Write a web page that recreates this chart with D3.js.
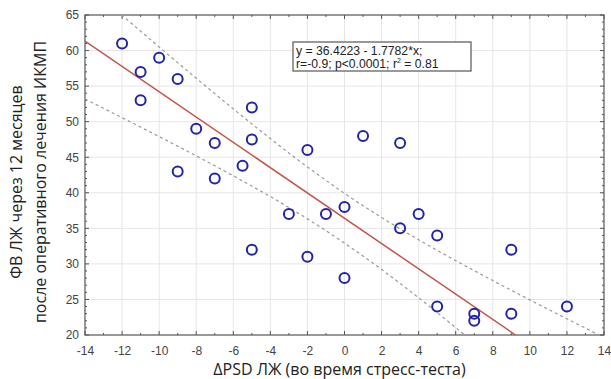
<!DOCTYPE html>
<html>
<head>
<meta charset="utf-8">
<script src="https://cdn.jsdelivr.net/npm/d3@7"></script>
<style>
  html, body { margin: 0; padding: 0; background: #fff; }
  svg { display: block; }
</style>
</head>
<body>
<svg id="chart" width="611" height="379"></svg>
<script>
// ---- data ----
const pointsX = [-12, -11, -11, -10, -9, -8, -7, -9, -7, -5, -5, -5.5, -2, 1, 3, -3, -1, 0, 3, 4, 5, -5, -2, 0, 5, 7, 7, 9, 9, 12];
const pointsY = [61, 57, 53, 59, 56, 49, 47, 43, 42, 52, 47.5, 43.8, 46, 48, 47, 37, 37, 38, 35, 37, 34, 32, 31, 28, 24, 23, 22, 23, 32, 24];

const regX = [-14, 9.23];
const regY = [61.32, 20];

const bandX = [-14, -12, -10, -8, -6, -4, -2, 0, 2, 4, 6, 8, 10, 12, 14];
const upperY = [69.45, 64.96, 60.50, 56.11, 51.80, 47.62, 43.63, 39.92, 36.52, 33.39, 30.46, 27.66, 24.94, 22.28, 19.66];
const lowerY = [53.19, 50.56, 47.90, 45.19, 42.38, 39.46, 36.33, 32.92, 29.22, 25.23, 21.04, 16.74, 12.4, 8.0, 3.6];

const xTicks = [-14, -12, -10, -8, -6, -4, -2, 0, 2, 4, 6, 8, 10, 12, 14];
const yTicks = [20, 25, 30, 35, 40, 45, 50, 55, 60, 65];

const xTitle = "ΔPSD ЛЖ (во время стресс-теста)";
const yTitle1 = "ФВ ЛЖ через 12 месяцев";
const yTitle2 = "после оперативного лечения ИКМП";
const eqLine1 = "y = 36.4223 - 1.7782*x;";
const eqLine2a = "r=-0.9; p<0.0001; r";
const eqLine2b = " = 0.81";

// ---- layout ----
const L = 85, R = 604, T = 15, B = 335;
const svg = d3.select("#chart");
const x = d3.scaleLinear().domain([-14, 14]).range([L, R]);
const y = d3.scaleLinear().domain([20, 65]).range([B, T]);

svg.append("defs").append("clipPath").attr("id", "plotclip")
  .append("rect").attr("x", L).attr("y", T).attr("width", R - L).attr("height", B - T);

// grid
const grid = svg.append("g");
grid.selectAll("line.gx").data(xTicks.slice(1, -1)).join("line")
  .attr("x1", d => x(d)).attr("x2", d => x(d)).attr("y1", T).attr("y2", B)
  .attr("stroke", "#e6e6e6").attr("stroke-width", 1);
grid.selectAll("line.gy").data(yTicks.slice(1, -1)).join("line")
  .attr("y1", d => y(d)).attr("y2", d => y(d)).attr("x1", L).attr("x2", R)
  .attr("stroke", "#e6e6e6").attr("stroke-width", 1);

// minor ticks
const xMinor = d3.range(-14, 14.01, 1);
const yMinor = d3.range(20, 65.01, 1);
const tk = svg.append("g").attr("stroke", "#555").attr("stroke-width", 1);
xMinor.forEach(v => {
  const len = (v % 2 === 0) ? 4 : 2;
  tk.append("line").attr("x1", x(v)).attr("x2", x(v)).attr("y1", B).attr("y2", B - len);
  tk.append("line").attr("x1", x(v)).attr("x2", x(v)).attr("y1", T).attr("y2", T + len);
});
yMinor.forEach(v => {
  const len = (v % 5 === 0) ? 4 : 2;
  tk.append("line").attr("y1", y(v)).attr("y2", y(v)).attr("x1", L).attr("x2", L + len);
  tk.append("line").attr("y1", y(v)).attr("y2", y(v)).attr("x1", R).attr("x2", R - len);
});

// axes labels
const fmt = d => String(d);
const xAxis = svg.append("g").attr("transform", `translate(0,${B})`)
  .call(d3.axisBottom(x).tickValues(xTicks).tickFormat(fmt).tickSize(0).tickPadding(11));
const yAxis = svg.append("g").attr("transform", `translate(${L},0)`)
  .call(d3.axisLeft(y).tickValues(yTicks).tickFormat(fmt).tickSize(0).tickPadding(6));
[xAxis, yAxis].forEach(g => {
  g.select(".domain").remove();
  g.selectAll("text").attr("font-family", "Liberation Sans, Arial, sans-serif")
    .attr("font-size", 12).attr("fill", "#444");
});

// frame
svg.append("rect").attr("x", L).attr("y", T).attr("width", R - L).attr("height", B - T)
  .attr("fill", "none").attr("stroke", "#555").attr("stroke-width", 1.2);

const plot = svg.append("g").attr("clip-path", "url(#plotclip)");

// confidence bands
const band = d3.line().x(d => x(d[0])).y(d => y(d[1])).curve(d3.curveMonotoneX);
[upperY, lowerY].forEach(arr => {
  plot.append("path").datum(bandX.map((v, i) => [v, arr[i]]))
    .attr("d", band).attr("fill", "none").attr("stroke", "#9a9a9a")
    .attr("stroke-width", 1.2).attr("stroke-dasharray", "3,3");
});

// regression line
plot.append("path").datum(regX.map((v, i) => [v, regY[i]]))
  .attr("d", d3.line().x(d => x(d[0])).y(d => y(d[1])))
  .attr("fill", "none").attr("stroke", "#c5554a").attr("stroke-width", 1.5);

// points
svg.append("g").selectAll("circle").data(pointsX.map((v, i) => [v, pointsY[i]])).join("circle")
  .attr("cx", d => x(d[0])).attr("cy", d => y(d[1])).attr("r", 5)
  .attr("fill", "none").attr("stroke", "#2323a8").attr("stroke-width", 2);

// equation box
const bx = 293, by = 42;
svg.append("rect").attr("x", bx).attr("y", by).attr("width", 178).attr("height", 29)
  .attr("fill", "#fff").attr("stroke", "#555").attr("stroke-width", 1.2);
const eq = svg.append("g").attr("font-family", "Liberation Sans, Arial, sans-serif")
  .attr("font-size", 12.2).attr("fill", "#222");
eq.append("text").attr("x", bx + 3).attr("y", by + 13).text(eqLine1);
const t2 = eq.append("text").attr("x", bx + 3).attr("y", by + 26);
t2.append("tspan").text(eqLine2a);
t2.append("tspan").attr("font-size", 7).attr("dy", -5).text("2");
t2.append("tspan").attr("dy", 5).text(eqLine2b);

// axis titles
svg.append("text").attr("x", (L + R) / 2 - 5).attr("y", 375).attr("text-anchor", "middle")
  .attr("font-family", "Open Sans, sans-serif").attr("font-size", 16).attr("fill", "#222")
  .text(xTitle);
const yt = svg.append("g").attr("font-family", "Open Sans, sans-serif")
  .attr("font-size", 16).attr("fill", "#222").attr("text-anchor", "middle");
yt.append("text").attr("transform", `translate(22,182) rotate(-90)`).text(yTitle1);
yt.append("text").attr("transform", `translate(46,182) rotate(-90)`).text(yTitle2);
</script>
</body>
</html>
